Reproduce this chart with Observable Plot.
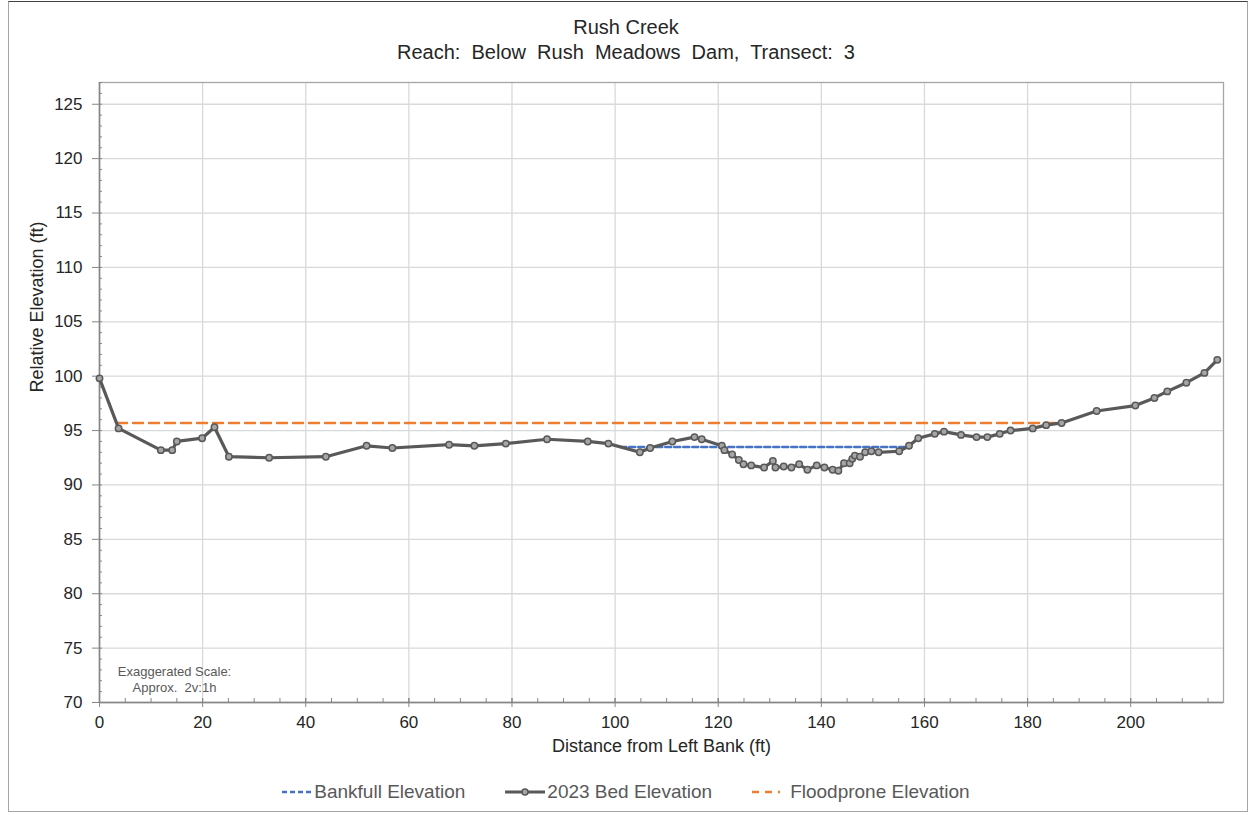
<!DOCTYPE html>
<html>
<head>
<meta charset="utf-8">
<script src="https://cdn.jsdelivr.net/npm/d3@7"></script>
<script src="https://cdn.jsdelivr.net/npm/@observablehq/plot@0.6"></script>
<style>
  html, body { margin: 0; padding: 0; background: #fff; }
  #wrap { position: relative; width: 1252px; height: 815px; overflow: hidden; font-family: "Liberation Sans", Arial, sans-serif; }
  #border { position: absolute; left: 8px; top: 1px; width: 1240px; height: 811px; border: 1px solid #a6a6a6; border-top-color: #404040; box-sizing: border-box; }
  .title { position: absolute; left: 0; width: 1252px; text-align: center; color: #262626; font-size: 20px; white-space: pre; }
  #chart { position: absolute; left: 0; top: 0; }
  #legend { position: absolute; left: 0; width: 1252px; top: 781px; display: flex; justify-content: center; align-items: center; font-size: 19px; color: #595959; }
  #legend .item { display: flex; align-items: center; margin: 0 20px; }
  #legend svg { display: block; }
</style>
</head>
<body>
<div id="wrap">
  <div id="border"></div>
  <div class="title" style="top:16px">Rush Creek</div>
  <div class="title" style="top:41px">Reach:  Below  Rush  Meadows  Dam,  Transect:  3</div>
  <div id="chart"></div>
  <div id="legend"></div>
</div>
<script>
// ---- data ----
const distance = [0, 3.7, 11.9, 14.1, 15.0, 19.9, 22.3, 25.1, 32.9, 43.9,
  51.8, 56.8, 67.8, 72.7, 78.8, 86.8, 94.7, 98.7, 104.8, 106.8,
  111.1, 115.4, 116.8, 120.7, 121.2, 122.7, 124.0, 124.9, 126.4, 128.9,
  130.6, 131.1, 132.7, 134.2, 135.7, 137.3, 139.1, 140.6, 142.2, 143.3,
  144.4, 145.5, 146.0, 146.5, 147.5, 148.5, 149.7, 151.1, 155.1, 157.0,
  158.8, 162.0, 163.8, 167.1, 170.1, 172.2, 174.6, 176.7, 181.0, 183.6,
  186.6, 193.4, 200.9, 204.6, 207.1, 210.8, 214.3, 216.8];
const bedElevation = [99.8, 95.2, 93.2, 93.2, 94.0, 94.3, 95.3, 92.6, 92.5, 92.6,
  93.6, 93.4, 93.7, 93.6, 93.8, 94.2, 94.0, 93.8, 93.0, 93.4,
  94.0, 94.4, 94.2, 93.6, 93.2, 92.8, 92.3, 91.9, 91.8, 91.6,
  92.2, 91.6, 91.7, 91.6, 91.9, 91.4, 91.8, 91.6, 91.4, 91.3,
  92.0, 92.0, 92.4, 92.7, 92.6, 93.0, 93.1, 93.0, 93.1, 93.6,
  94.3, 94.7, 94.9, 94.6, 94.4, 94.4, 94.7, 95.0, 95.2, 95.5,
  95.7, 96.8, 97.3, 98.0, 98.6, 99.4, 100.3, 101.5];
const bankfullX = [101.0, 157.0];
const bankfullY = [93.5, 93.5];
const floodproneX = [3.4, 186.6];
const floodproneY = [95.7, 95.7];
const xTicks = [0, 20, 40, 60, 80, 100, 120, 140, 160, 180, 200];
const yTicks = [70, 75, 80, 85, 90, 95, 100, 105, 110, 115, 120, 125];
const xMinor = d3.range(0, 219, 5);
const yMinor = d3.range(70, 128, 1);
const xDomain = [0, 218];
const yDomain = [70, 127];

const bed = distance.map((d, i) => ({x: d, y: bedElevation[i]}));
const bankfull = bankfullX.map((d, i) => ({x: d, y: bankfullY[i]}));
const floodprone = floodproneX.map((d, i) => ({x: d, y: floodproneY[i]}));

const axisColor = "#868686";
const chart = Plot.plot({
  width: 1252,
  height: 770,
  marginTop: 82,
  marginLeft: 99,
  marginRight: 29,
  marginBottom: 68,
  x: {domain: xDomain},
  y: {domain: yDomain},
  style: {fontFamily: "'Liberation Sans', Arial, sans-serif", fontSize: "17px", color: "#262626", background: "transparent", overflow: "visible"},
  marks: [
    Plot.gridX(xTicks, {stroke: "#d9d9d9", strokeOpacity: 1, strokeWidth: 1.3}),
    Plot.gridY(yTicks, {stroke: "#d9d9d9", strokeOpacity: 1, strokeWidth: 1.3}),
    Plot.frame({stroke: "#a6a6a6", strokeWidth: 1.3}),
    Plot.ruleX([xDomain[0]], {stroke: axisColor, strokeWidth: 1.5}),
    Plot.ruleY([yDomain[0]], {stroke: axisColor, strokeWidth: 1.5}),
    Plot.axisX(xTicks, {tickSize: 5, tickPadding: 8, stroke: axisColor, fill: "#262626", fontSize: 17, label: null}),
    Plot.axisX(xTicks, {tickSize: -4, text: null, stroke: axisColor, label: null}),
    Plot.axisX(xMinor, {tickSize: -4, text: null, stroke: axisColor, label: null}),
    Plot.axisY(yTicks, {tickSize: 7, tickPadding: 10, stroke: axisColor, fill: "#262626", fontSize: 17, label: null}),
    Plot.axisY(yMinor, {tickSize: -3, text: null, stroke: axisColor, label: null}),
    Plot.text(["Distance from Left Bank (ft)"], {frameAnchor: "bottom", dy: 49, fontSize: 18, fill: "#262626"}),
    Plot.text(["Relative Elevation (ft)"], {frameAnchor: "left", dx: -62, rotate: -90, fontSize: 18, fill: "#262626"}),
    Plot.text(["Exaggerated Scale:\nApprox.  2v:1h"], {frameAnchor: "bottom-left", textAnchor: "middle", dx: 75, dy: -11, fontSize: 13, fill: "#595959", lineHeight: 1.2}),
    Plot.line(floodprone, {x: "x", y: "y", stroke: "#ED7D31", strokeWidth: 2.5, strokeDasharray: "10 6"}),
    Plot.line(bankfull, {x: "x", y: "y", stroke: "#4472C4", strokeWidth: 2.5, strokeDasharray: "6 3"}),
    Plot.line(bed, {x: "x", y: "y", stroke: "#595959", strokeWidth: 3.2}),
    Plot.dot(bed, {x: "x", y: "y", r: 3.2, fill: "#a6a6a6", stroke: "#595959", strokeWidth: 1.5})
  ]
});
document.getElementById("chart").appendChild(chart);

// ---- legend ----
const legendItems = [
  {label: "Bankfull Elevation", color: "#4472C4", dash: "5 3", marker: false, w: 30},
  {label: "2023 Bed Elevation", color: "#595959", dash: null, marker: true, w: 40},
  {label: "Floodprone Elevation", color: "#ED7D31", dash: "7 6", marker: false, w: 28}
];
const legend = d3.select("#legend");
for (const it of legendItems) {
  const item = legend.append("div").attr("class", "item");
  const svg = item.append("svg").attr("width", it.w + 2).attr("height", 12);
  svg.append("line").attr("x1", 0).attr("x2", it.w).attr("y1", 6).attr("y2", 6)
    .attr("stroke", it.color).attr("stroke-width", it.marker ? 3 : 2.5)
    .attr("stroke-dasharray", it.dash);
  if (it.marker) svg.append("circle").attr("cx", it.w / 2).attr("cy", 6).attr("r", 3)
    .attr("fill", "#a6a6a6").attr("stroke", "#595959").attr("stroke-width", 1.5);
  item.append("span").style("margin-left", it.label.startsWith("Flood") ? "8px" : "0px").text(it.label);
}
</script>
</body>
</html>
